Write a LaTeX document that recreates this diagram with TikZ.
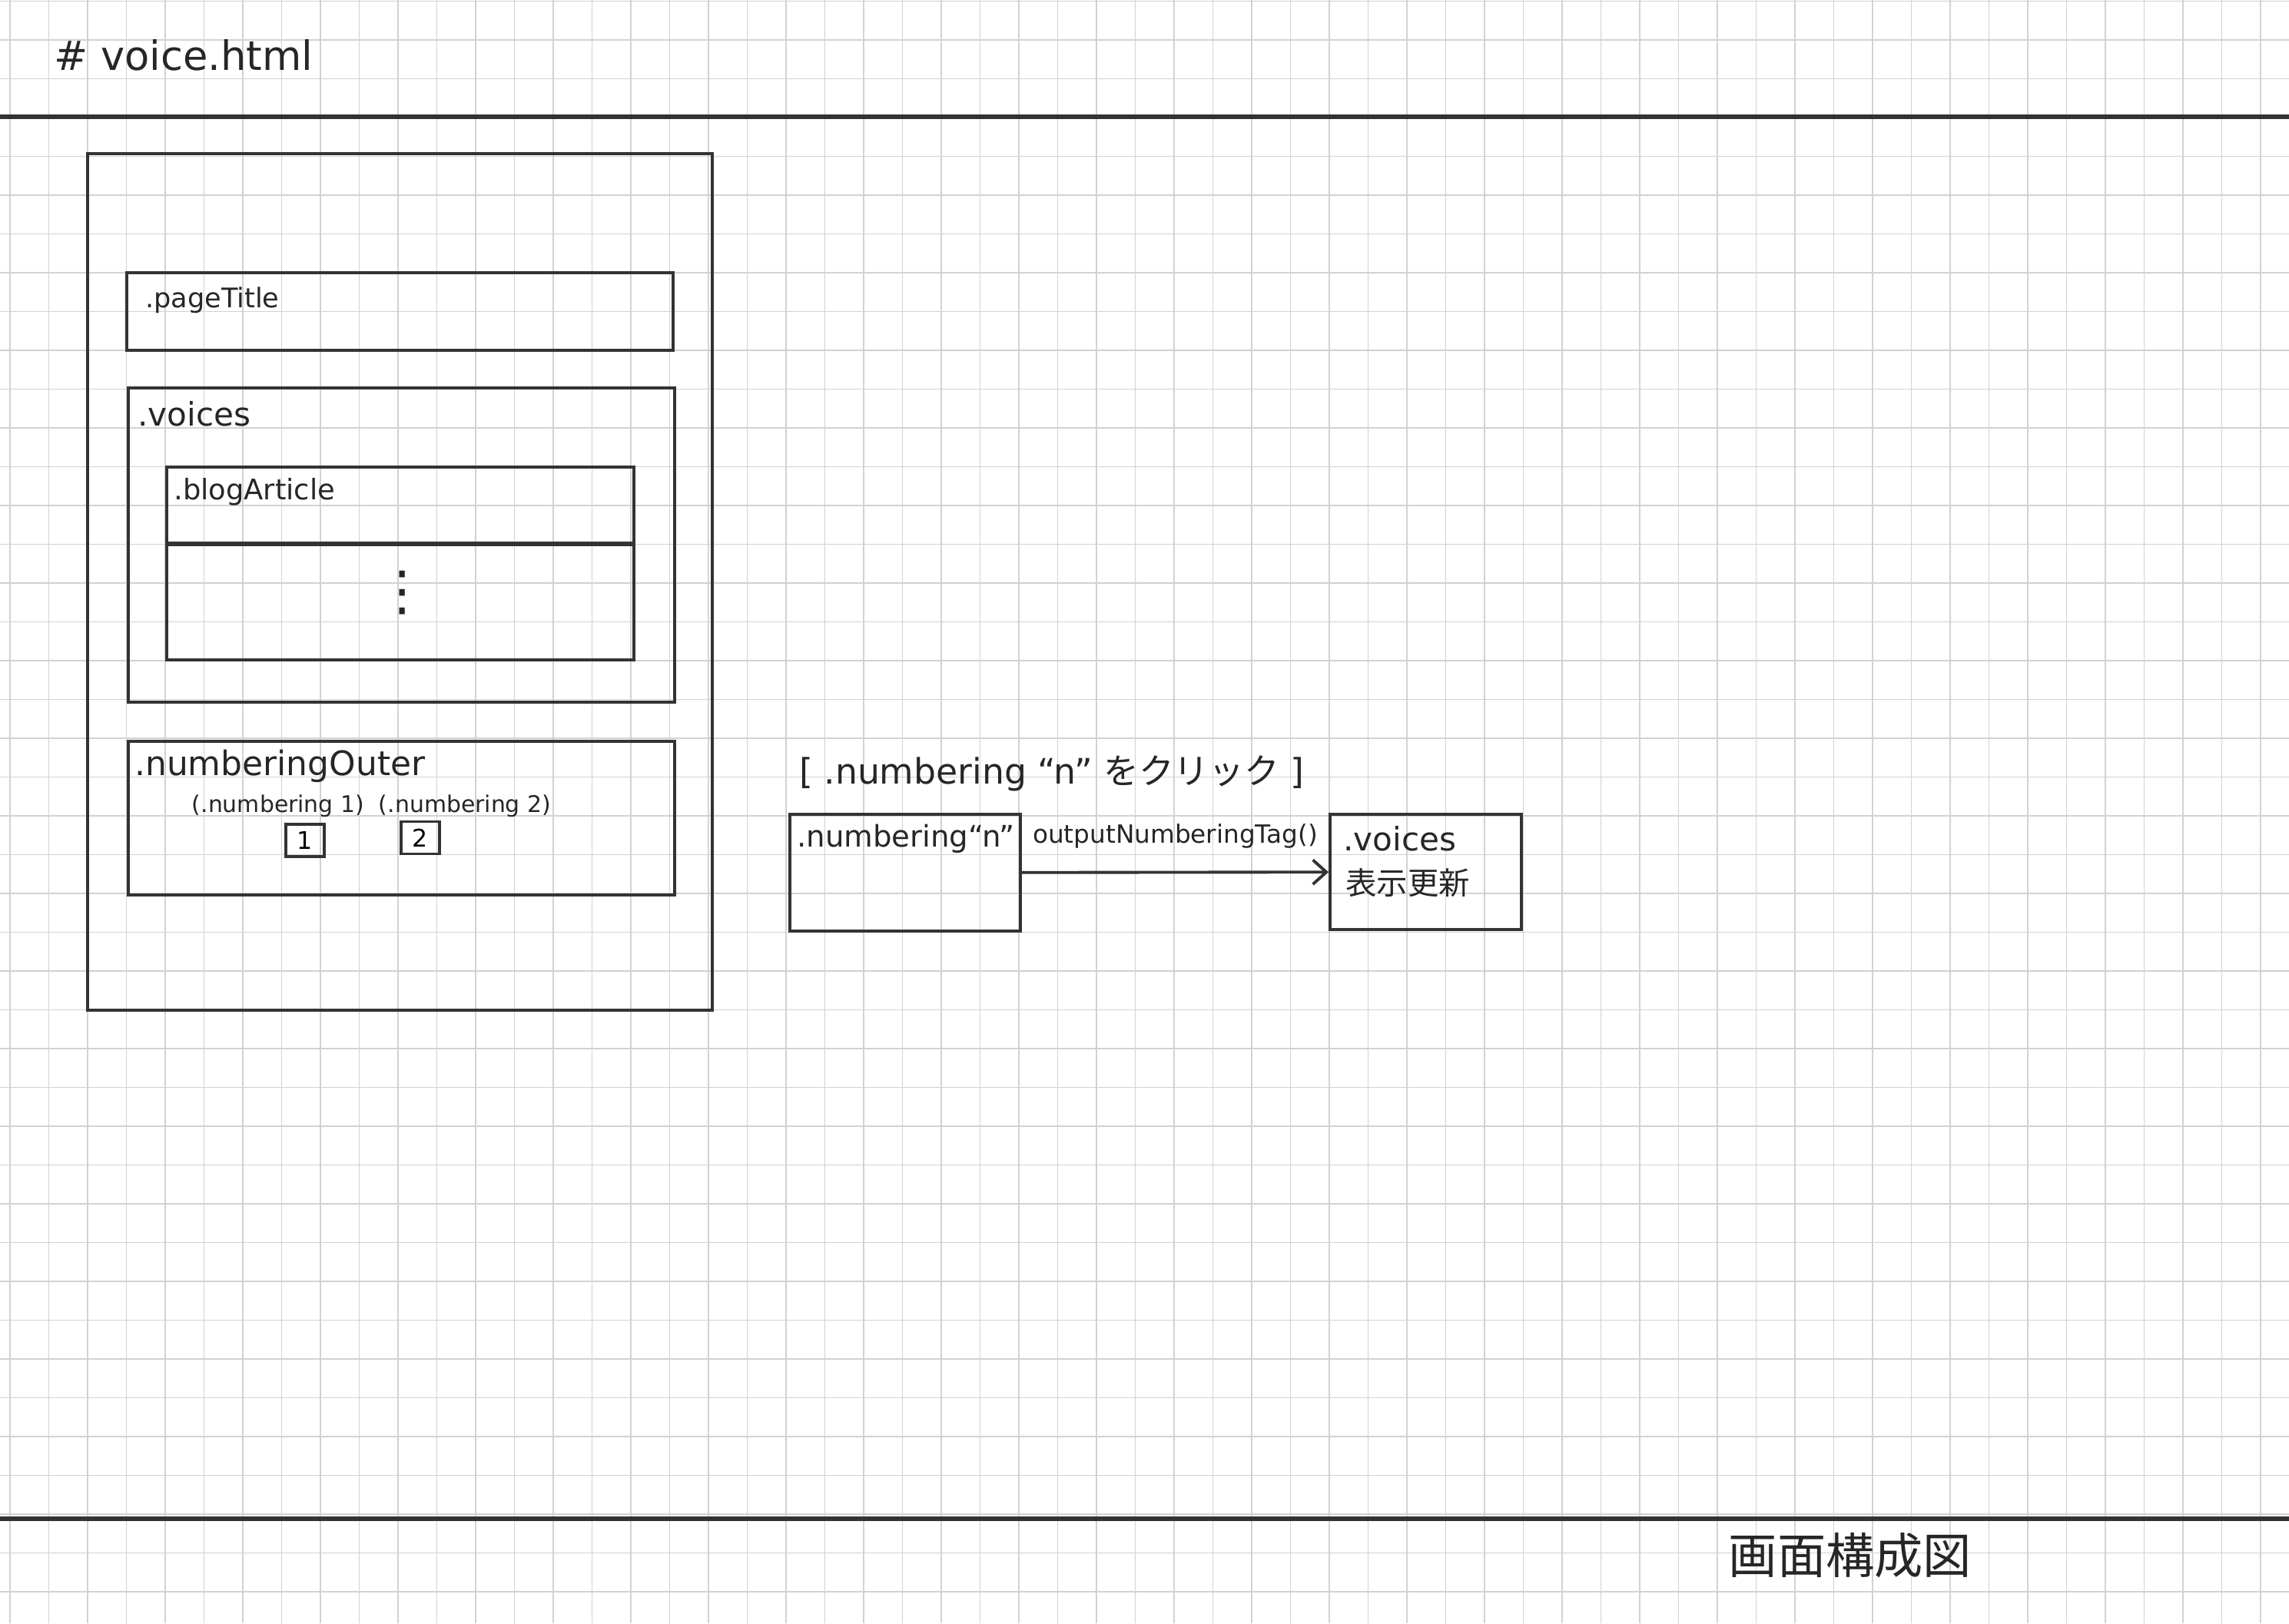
\documentclass[tikz,border=0pt]{standalone}
\usepackage{fontspec}
\setmainfont{DejaVu Sans}
\newfontfamily\jpfont{Noto Sans CJK JP}
\usetikzlibrary{arrows.meta}

\begin{document}
\begin{tikzpicture}[font=\fontsize{10}{12}\selectfont,
  box/.style={draw=black!80, line width=1.1pt, inner sep=0pt},
  tag/.style={anchor=west, inner sep=1pt, text=black!85},
  cell/.style={draw=black!80, line width=0.9pt, minimum width=0.5cm, minimum height=0.42cm, inner sep=0pt, font=\fontsize{9}{10}\selectfont},
  gridline/.style={gray!35, line width=0.5pt},
  rule/.style={black!80, line width=1.6pt}]
  \useasboundingbox (0,0) rectangle (29.79,-21.13);
  \fill[white] (0,0) rectangle (29.79,-21.13);
  \foreach \i in {0,...,58} \draw[gridline] (0.13+\i*0.505,0) -- ++(0,-21.13);
  \foreach \j in {0,...,41} \draw[gridline] (0,-0.015-\j*0.505) -- ++(29.79,0);
  \draw[rule] (0,-1.52) -- (29.79,-1.52);
  \draw[rule] (0,-19.77) -- (29.79,-19.77);
  \node[tag, font=\fontsize{15}{17}\selectfont] (title) at (0.66,-0.72) {\# voice.html};
  \node[font=\jpfont\fontsize{18}{20}\selectfont, text=black!85] (caption) at (24.08,-20.25) {画面構成図};
  \node[box, minimum width=8.13cm, minimum height=11.15cm] (page) at (5.205,-7.575) {};
  \node[box, minimum width=7.11cm, minimum height=1.01cm] (ptitle) at (5.205,-4.055) {};
  \node[tag] (ptitlelbl) at ([shift={(0.22,-0.38)}]ptitle.north west) {.pageTitle};
  \node[box, minimum width=7.11cm, minimum height=4.09cm] (voices) at (5.225,-7.095) {};
  \node[tag, font=\fontsize{12}{14}\selectfont] (voiceslbl) at ([shift={(0.1,-0.36)}]voices.north west) {.voices};
  \node[box, minimum width=6.08cm, minimum height=0.99cm] (bloghead) at (5.21,-6.575) {};
  \node[box, minimum width=6.08cm, minimum height=1.5cm, anchor=north] (blogbody) at ([yshift=0.02cm]bloghead.south) {};
  \node[tag, font=\fontsize{10.5}{12}\selectfont] (bloglbl) at ([shift={(0.07,-0.34)}]bloghead.north west) {.blogArticle};
  \node[font=\fontsize{20}{22}\selectfont, text=black!85] (blogdots) at (5.24,-7.72) {⋮};
  \node[box, minimum width=7.11cm, minimum height=2.0cm] (numouter) at (5.225,-10.65) {};
  \node[tag, font=\fontsize{12.5}{14}\selectfont] (numouterlbl) at ([shift={(0.06,-0.34)}]numouter.north west) {.numberingOuter};
  \node[font=\fontsize{8.5}{10}\selectfont, text=black!85] (numlist) at (4.835,-10.49) {(.numbering 1)\ \ (.numbering 2)};
  \node[cell] (num1) at (3.97,-10.94) {1};
  \node[cell] (num2) at (5.47,-10.905) {2};
  \node[tag, font=\fontsize{13}{15}\selectfont] (click) at (10.36,-10.07) {[ .numbering ``n'' {\jpfont をクリック} ]};
  \node[box, minimum width=3.0cm, minimum height=1.52cm] (numn) at (11.78,-11.36) {};
  \node[tag, font=\fontsize{11}{13}\selectfont] (numnlbl) at ([shift={(0.07,-0.34)}]numn.north west) {.numbering``n''};
  \node[box, minimum width=2.49cm, minimum height=1.5cm] (voicesr) at (18.555,-11.35) {};
  \node[tag, font=\fontsize{12}{14}\selectfont] (voicesrlbl) at ([shift={(0.15,-0.34)}]voicesr.north west) {.voices};
  \node[tag, font=\jpfont\fontsize{11.5}{13}\selectfont] (voicesrnote) at ([shift={(0.18,-0.91)}]voicesr.north west) {表示更新};
  \draw[-{Straight Barb[length=5pt,width=9pt]}, black!80, line width=1.1pt] (numn) -- node[above=5pt, font=\fontsize{9.3}{11}\selectfont, text=black!85] (calllbl) {outputNumberingTag()} (voicesr);
\end{tikzpicture}
\end{document}
